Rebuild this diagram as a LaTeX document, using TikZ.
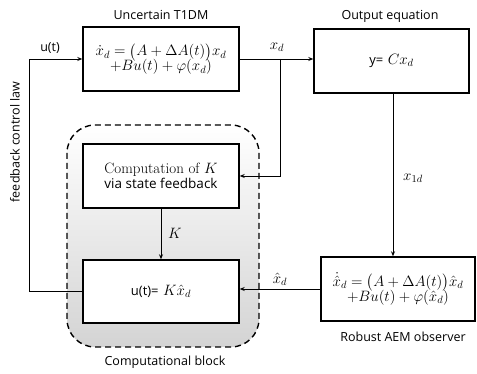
\RequirePackage{fix-cm}
\documentclass[tikz,border=0pt]{standalone}
\usepackage{amsmath}
\usepackage{fontspec}
\newfontfamily\labfont{Open Sans}
\usetikzlibrary{arrows.meta}
\begin{document}
\begin{tikzpicture}[x=1pt,y=-1pt,
  blk/.style={draw=black,line width=1.4pt,fill=white,minimum width=156pt,minimum height=64pt,inner sep=0pt,align=center,font=\fontsize{15}{17}\selectfont},
  lab/.style={font=\labfont\fontsize{12.5}{14}\selectfont,inner sep=0pt},
  mlab/.style={font=\fontsize{15}{17}\selectfont,inner sep=0pt},
  conn/.style={line width=0.8pt,-{Stealth[length=5pt,width=4pt]}},
  line/.style={line width=0.8pt}]
\useasboundingbox (0,0) rectangle (477,374);
% computational block
\draw[line width=1.4pt,dash pattern=on 6pt off 4pt,rounded corners=28pt,top color=white,middle color=black!3,bottom color=black!17]
  (67,125) rectangle (259,347);
\node[blk] (t1dm) at (161,59) {$\dot{x}_d=\bigl(A+\Delta A(t)\bigr)x_d$\\[-2pt]$+Bu(t)+\varphi(x_d)$};
\node[blk,minimum width=155pt] (out) at (391.5,61) {{\labfont\fontsize{13}{15}\selectfont y=} $Cx_d$};
\node[blk] (comp) at (161,176) {Computation of $K$\\[-2pt]{\labfont\fontsize{13.5}{15}\selectfont via state feedback}};
\node[blk,minimum height=63pt] (ubox) at (161,291.5) {{\labfont\fontsize{13}{15}\selectfont u(t)=} $K\hat{x}_d$};
\node[blk,minimum width=154pt] (obs) at (398,289) {$\dot{\hat{x}}_d=\bigl(A+\Delta A(t)\bigr)\hat{x}_d$\\[-2pt]$+Bu(t)+\varphi(\hat{x}_d)$};
% labels
\node[lab] (l1) at (161,15) {Uncertain T1DM};
\node[lab] (l2) at (390,16) {Output equation};
\node[lab] (l3) at (403,337) {Robust AEM observer};
\node[lab] (l4) at (165,362) {Computational block};
\node[lab] (l5) at (50,48) {u(t)};
\node[lab,rotate=90] (l6) at (15,142) {feedback control law};
\node[mlab] (l7) at (277,47) {$x_d$};
\node[mlab] (l8) at (413,178) {$x_{1d}$};
\node[mlab] (l9) at (175,233) {$K$};
\node[mlab] (l10) at (280,279) {$\hat{x}_d$};
% connectors
\coordinate (br) at (280,59);
\coordinate (fb) at (29,59);
\draw[conn] (t1dm.east) -- (t1dm.east -| out.west);
\draw[conn] (br) |- (comp.east);
\draw[conn] (ubox.west) -| (fb) -- (t1dm.west);
\draw[conn] (out.south -| 393,0) -- (obs.north -| 393,0);
\draw[conn] (comp.south) -- (ubox.north);
\draw[conn] (obs.west) -- (obs.west -| ubox.east);
\end{tikzpicture}
\end{document}
